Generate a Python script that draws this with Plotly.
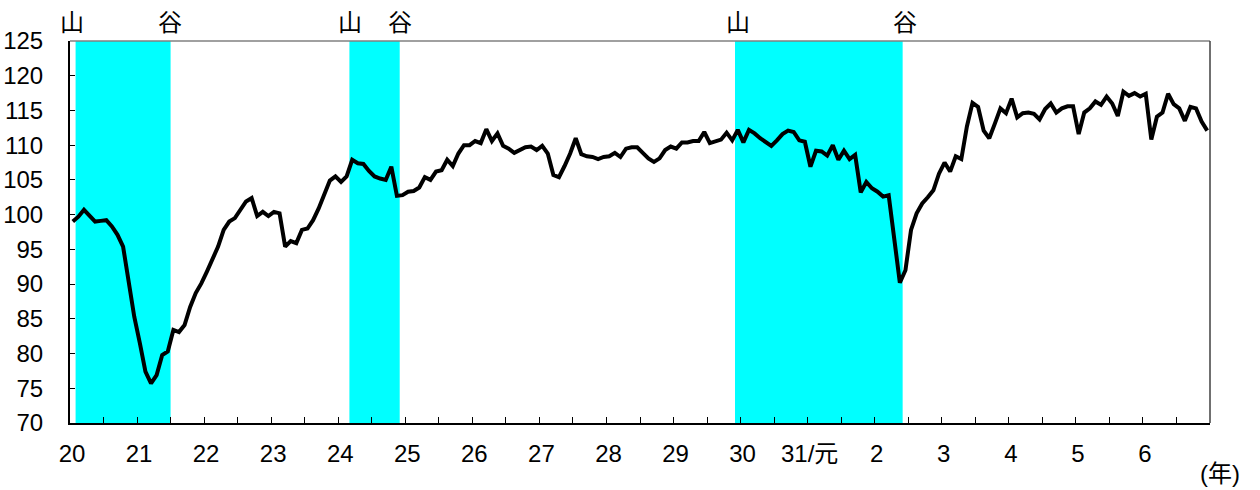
import plotly.graph_objects as go

# Monthly index values, Jan 2008 (H20) .. Dec 2024 (R6)
values = [
    99.0, 99.7, 100.7, 99.9, 99.0, 99.1, 99.2, 98.3, 97.1, 95.4, 90.6, 85.3,
    81.5, 77.4, 75.7, 76.9, 79.8, 80.3, 83.4, 83.1, 84.1, 86.7, 88.7, 90.1,
    91.8, 93.5, 95.4, 97.8, 99.0, 99.5, 100.7, 101.9, 102.4, 99.8, 100.4, 99.8,
    100.4, 100.2, 95.4, 96.2, 95.9, 97.8, 98.0, 99.2, 100.9, 102.8, 104.9, 105.5,
    104.7, 105.5, 107.9, 107.4, 107.3, 106.3, 105.5, 105.2, 105.0, 106.9, 102.7, 102.8,
    103.3, 103.4, 103.9, 105.4, 105.0, 106.2, 106.4, 107.9, 107.0, 108.8, 110.0, 110.0,
    110.6, 110.3, 112.3, 110.6, 111.7, 109.9, 109.5, 108.9, 109.3, 109.7, 109.8, 109.3,
    109.9, 108.8, 105.7, 105.4, 107.0, 108.8, 111.0, 108.7, 108.4, 108.3, 108.0, 108.3,
    108.4, 108.9, 108.3, 109.5, 109.7, 109.7, 108.9, 108.1, 107.6, 108.1, 109.3, 109.8,
    109.5, 110.4, 110.4, 110.6, 110.6, 111.9, 110.3, 110.5, 110.8, 111.8, 110.7, 112.2,
    110.4, 112.2, 111.7, 111.0, 110.4, 109.9, 110.7, 111.6, 112.1, 111.9, 110.7, 110.5,
    106.9, 109.2, 109.1, 108.5, 110.0, 107.9, 109.2, 108.0, 108.6, 103.2, 104.7, 103.8,
    103.3, 102.6, 102.8, 96.4, 90.2, 92.0, 97.8, 100.2, 101.6, 102.5, 103.5, 105.9,
    107.5, 106.2, 108.4, 108.0, 112.7, 116.1, 115.5, 112.1, 111.0, 113.1, 115.3, 114.6,
    116.7, 114.0, 114.6, 114.7, 114.5, 113.7, 115.2, 116.0, 114.7, 115.3, 115.6, 115.6,
    111.6, 114.7, 115.3, 116.3, 115.8, 117.0, 116.0, 114.2, 117.7, 117.1, 117.5, 117.0,
    117.4, 110.8, 114.1, 114.7, 117.4, 115.9, 115.3, 113.5, 115.5, 115.3, 113.4, 112.1,
]

year_labels = ["20", "21", "22", "23", "24", "25", "26", "27", "28", "29",
               "30", "31/元", "2", "3", "4", "5", "6"]

# Business-cycle phases as month indices from Jan 2008 (start month, end month inclusive)
phase_start = [1, 50, 119]
phase_end = [17, 58, 148]
peak_labels = ["山", "山", "山"]
trough_labels = ["谷", "谷", "谷"]

n = len(values)
x = [i + 0.5 for i in range(n)]

font_family = "Liberation Sans, Arial, Noto Sans CJK JP, sans-serif"
cjk_family = "Noto Sans CJK JP, sans-serif"

fig = go.Figure()
fig.add_trace(go.Scatter(
    x=x, y=values, mode="lines",
    line=dict(color="black", width=4),
    hoverinfo="skip", showlegend=False,
))

shapes = []
for s, e in zip(phase_start, phase_end):
    shapes.append(dict(type="rect", xref="x", yref="y", x0=s, x1=e + 1,
                       y0=70, y1=125, fillcolor="#00FFFF", line=dict(width=0),
                       layer="below"))
# top and right frame lines
shapes.append(dict(type="line", xref="paper", yref="paper", x0=0, x1=1, y0=1, y1=1,
                   line=dict(color="#808080", width=1.5)))
shapes.append(dict(type="line", xref="paper", yref="paper", x0=1, x1=1, y0=0, y1=1,
                   line=dict(color="#404040", width=1.5)))

annotations = []
peak_pos = [0.35, 50.1, 119.5]
trough_pos = [17.9, 59.0, 149.4]
for px_, lab in zip(peak_pos + trough_pos, peak_labels + trough_labels):
    annotations.append(dict(x=px_, y=1.0, xref="x", yref="paper", text=lab,
                            showarrow=False, yanchor="middle", yshift=21,
                            font=dict(size=24, color="black", family=cjk_family)))
annotations.append(dict(x=1.0, y=0, xref="paper", yref="paper", text="(年)",
                        showarrow=False, xanchor="left", yanchor="middle",
                        xshift=-12, yshift=-50,
                        font=dict(size=24, color="black", family=font_family)))

tickvals = list(range(0, n + 1, 6))
ticktext = []
for tv in tickvals:
    if tv % 12 == 0 and tv // 12 < len(year_labels):
        ticktext.append(year_labels[tv // 12])
    else:
        ticktext.append("")

fig.update_layout(
    width=1260, height=490,
    margin=dict(l=70, r=50, t=41, b=67),
    plot_bgcolor="white", paper_bgcolor="white",
    font=dict(family=font_family, size=24, color="black"),
    shapes=shapes, annotations=annotations,
    xaxis=dict(range=[0, n], tickmode="array", tickvals=tickvals, ticktext=ticktext,
               ticks="inside", ticklen=6, tickcolor="black", tickwidth=1,
               showline=True, linecolor="black", linewidth=2,
               showgrid=False, zeroline=False, tickfont=dict(size=24),
               ticklabelstandoff=8, ticklabelshift=2, automargin=False),
    yaxis=dict(range=[70, 125], dtick=5, tick0=70,
               ticks="inside", ticklen=5, tickcolor="black", tickwidth=1,
               showline=True, linecolor="black", linewidth=2,
               showgrid=False, zeroline=False, tickfont=dict(size=24),
               ticklabelstandoff=20, automargin=False),
)

fig.write_html("out.html", config={"displayModeBar": False},
               post_script="document.body.style.margin='0px';document.body.style.overflow='hidden';")
